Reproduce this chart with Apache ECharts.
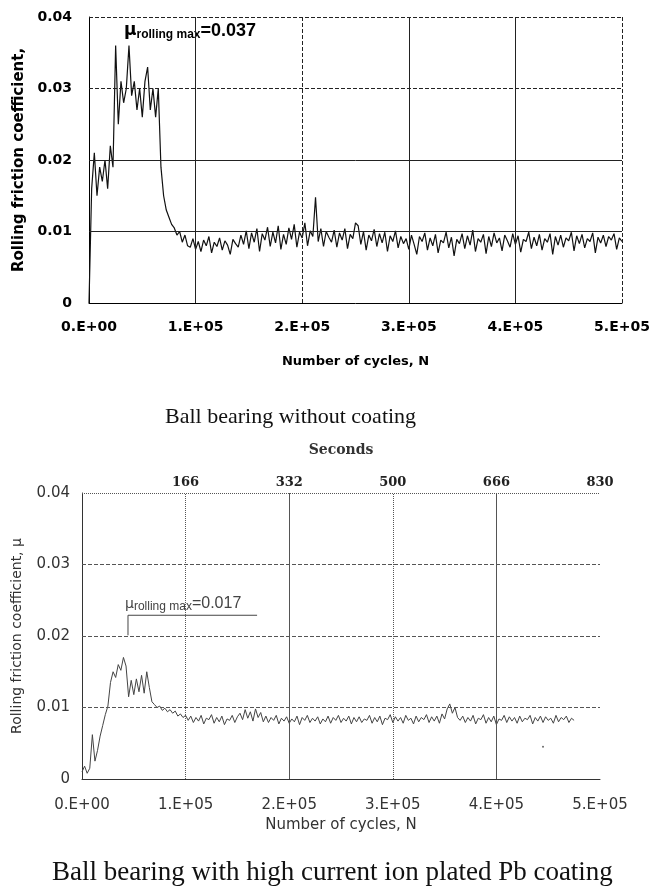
<!DOCTYPE html>
<html>
<head>
<meta charset="utf-8">
<script src="https://cdn.jsdelivr.net/npm/echarts@6/dist/echarts.min.js"></script>
<style>
html,body{margin:0;padding:0;background:#fff}
#chart{width:653px;height:892px}
</style>
</head>
<body>
<div id="chart"></div>
<script>
var STEP = 2500;

var cycleTicks = ['0.E+00', '1.E+05', '2.E+05', '3.E+05', '4.E+05', '5.E+05'];
var secondTicks = ['', '166', '332', '500', '666', '830'];

// ball bearing without coating
var muUncoated = [
  0.0000, 0.0160, 0.0210, 0.0150, 0.0190, 0.0170, 0.0200, 0.0160, 0.0220, 0.0190,
  0.0360, 0.0250, 0.0310, 0.0280, 0.0300, 0.0360, 0.0290, 0.0310, 0.0270, 0.0300,
  0.0260, 0.0310, 0.0330, 0.0270, 0.0300, 0.0260, 0.0300, 0.0190, 0.0150, 0.0130,
  0.0120, 0.0110, 0.0105, 0.0095, 0.0100, 0.0085, 0.0095, 0.0080,
  0.0078, 0.0090, 0.0075, 0.0086, 0.0072, 0.0088, 0.0080, 0.0093, 0.0070, 0.0085,
  0.0079, 0.0091, 0.0074, 0.0087, 0.0081, 0.0068, 0.0089, 0.0083,
  0.0078, 0.0095, 0.0082, 0.0101, 0.0076, 0.0098, 0.0085, 0.0104, 0.0072, 0.0097,
  0.0088, 0.0106, 0.0079, 0.0099, 0.0084, 0.0108, 0.0075,
  0.0096, 0.0082, 0.0105, 0.0089, 0.0110, 0.0078, 0.0099, 0.0091, 0.0112, 0.0080,
  0.0101, 0.0093, 0.0148, 0.0086, 0.0104, 0.0079, 0.0100, 0.0092,
  0.0085, 0.0102, 0.0078, 0.0098, 0.0088, 0.0104, 0.0076, 0.0096, 0.0090, 0.0112,
  0.0108, 0.0082, 0.0100, 0.0074, 0.0095, 0.0087, 0.0103, 0.0079, 0.0097, 0.0084,
  0.0099, 0.0072, 0.0094, 0.0086, 0.0101, 0.0077, 0.0093, 0.0083,
  0.0090, 0.0075, 0.0095, 0.0082, 0.0068, 0.0093, 0.0086, 0.0098, 0.0074, 0.0091,
  0.0080, 0.0096, 0.0070, 0.0088, 0.0084, 0.0099, 0.0077, 0.0092, 0.0066, 0.0089,
  0.0083, 0.0097, 0.0076, 0.0094, 0.0081, 0.0102, 0.0072, 0.0090, 0.0085, 0.0096,
  0.0069, 0.0093, 0.0079, 0.0098, 0.0084, 0.0091, 0.0073, 0.0095, 0.0087, 0.0078,
  0.0097, 0.0082, 0.0094, 0.0071, 0.0089, 0.0086, 0.0099, 0.0076, 0.0092, 0.0080,
  0.0096, 0.0074, 0.0090, 0.0085, 0.0097, 0.0068, 0.0093, 0.0081, 0.0095, 0.0078,
  0.0091, 0.0087, 0.0099, 0.0073, 0.0094, 0.0083, 0.0096, 0.0077, 0.0090, 0.0086,
  0.0098, 0.0070, 0.0092, 0.0084, 0.0095, 0.0079, 0.0093, 0.0088, 0.0097, 0.0075,
  0.0091, 0.0086
];

// ball bearing with high current ion plated Pb coating
var muCoated = [
  0.0010, 0.0018, 0.0008, 0.0015, 0.0062, 0.0025, 0.0040, 0.0060, 0.0075, 0.0090,
  0.0102, 0.0135, 0.0150, 0.0142, 0.0160, 0.0152, 0.0170, 0.0158, 0.0115, 0.0138,
  0.0118, 0.0140, 0.0122, 0.0145, 0.0120, 0.0150, 0.0128, 0.0108, 0.0104, 0.0100,
  0.0102, 0.0096, 0.0099, 0.0094, 0.0097, 0.0092, 0.0095, 0.0088, 0.0091, 0.0086,
  0.0089,
  0.0082, 0.0088, 0.0079, 0.0086, 0.0081, 0.0089, 0.0077, 0.0085, 0.0083, 0.0090,
  0.0078, 0.0086, 0.0080, 0.0088, 0.0076, 0.0084, 0.0082, 0.0089, 0.0079, 0.0087,
  0.0092, 0.0083, 0.0097, 0.0085, 0.0094, 0.0081, 0.0098, 0.0086, 0.0093, 0.0080,
  0.0088, 0.0079, 0.0086, 0.0082, 0.0089, 0.0077, 0.0085, 0.0081, 0.0087, 0.0078,
  0.0084, 0.0080, 0.0088, 0.0076, 0.0086, 0.0082, 0.0089, 0.0079, 0.0085, 0.0081,
  0.0087, 0.0077, 0.0084, 0.0080, 0.0088, 0.0078, 0.0086, 0.0082, 0.0089, 0.0079,
  0.0085, 0.0081, 0.0088, 0.0077, 0.0086, 0.0080, 0.0087, 0.0079, 0.0084, 0.0082,
  0.0089, 0.0078, 0.0086, 0.0080, 0.0088, 0.0076, 0.0085, 0.0083, 0.0090, 0.0079,
  0.0087, 0.0081, 0.0086, 0.0078, 0.0089, 0.0082, 0.0085, 0.0077, 0.0088, 0.0080,
  0.0086, 0.0083, 0.0090, 0.0079, 0.0087, 0.0081, 0.0088, 0.0078, 0.0091, 0.0084,
  0.0098, 0.0105, 0.0092, 0.0100, 0.0086,
  0.0082, 0.0088, 0.0079, 0.0086, 0.0081, 0.0089, 0.0077, 0.0085, 0.0083, 0.0090,
  0.0078, 0.0086, 0.0080, 0.0088, 0.0076, 0.0084, 0.0082, 0.0089, 0.0079, 0.0087,
  0.0081, 0.0086, 0.0078, 0.0088, 0.0080, 0.0085, 0.0083, 0.0089, 0.0077, 0.0086,
  0.0081, 0.0088, 0.0079, 0.0087, 0.0082, 0.0085, 0.0078, 0.0089, 0.0080, 0.0086,
  0.0083, 0.0088, 0.0079, 0.0085, 0.0082
];

// stray point on the coated trace
var strayPoint = [[445000, 0.0045]];
// bracket under the max label of the coated trace
var maxBracket = [[44400, 0.0201], [44400, 0.0229], [169000, 0.0229]];

var gridY = [0.01, 0.02, 0.03, 0.04];
var gridX = [100000, 200000, 300000, 400000, 500000];

function toPairs(arr) {
  return arr.map(function (v, i) { return [i * STEP, v]; });
}

function gridMarks(yTypes, xTypes, color) {
  var d = [];
  gridY.forEach(function (v, i) {
    if (yTypes[i]) d.push({ yAxis: v, lineStyle: { type: yTypes[i], color: color } });
  });
  gridX.forEach(function (v, i) {
    if (xTypes[i]) d.push({ xAxis: v, lineStyle: { type: xTypes[i], color: color } });
  });
  return d;
}

var sans = 'DejaVu Sans, Verdana, sans-serif';
var serif = 'Liberation Serif, Times New Roman, serif';
var serifB = 'DejaVu Serif, Georgia, serif';

var chart = echarts.init(document.getElementById('chart'));

var option = {
  animation: false,
  backgroundColor: '#fff',
  title: [
    { text: 'Ball bearing without coating', left: 160, top: 401,
      textStyle: { fontFamily: serif, fontSize: 22, fontWeight: 'normal', color: '#111' } },
    { text: 'Ball bearing with high current ion plated Pb coating', left: 47, top: 854,
      textStyle: { fontFamily: serif, fontSize: 27, fontWeight: 'normal', color: '#111' } }
  ],
  grid: [
    { left: 89, top: 17, width: 533, height: 286 },
    { left: 82, top: 493, width: 518, height: 286 }
  ],
  xAxis: [
    { gridIndex: 0, type: 'value', min: 0, max: 500000, interval: 100000,
      axisLine: { lineStyle: { color: '#000', width: 1 } }, axisTick: { show: false }, splitLine: { show: false },
      axisLabel: { formatter: function (v) { return cycleTicks[Math.round(v / 100000)]; },
        color: '#000', fontFamily: sans, fontWeight: 'bold', fontSize: 14, margin: 17 },
      name: 'Number of cycles, N', nameLocation: 'middle', nameGap: 52,
      nameTextStyle: { color: '#000', fontFamily: sans, fontWeight: 'bold', fontSize: 13 } },
    { gridIndex: 1, type: 'value', min: 0, max: 500000, interval: 100000,
      axisLine: { lineStyle: { color: '#333', width: 1 } }, axisTick: { show: false }, splitLine: { show: false },
      axisLabel: { formatter: function (v) { return cycleTicks[Math.round(v / 100000)]; },
        color: '#333', fontFamily: sans, fontSize: 15, margin: 19 },
      name: 'Number of cycles, N', nameLocation: 'middle', nameGap: 39,
      nameTextStyle: { color: '#333', fontFamily: sans, fontSize: 15 } },
    { gridIndex: 1, type: 'value', position: 'top', min: 0, max: 500000, interval: 100000,
      axisLine: { show: false }, axisTick: { show: false }, splitLine: { show: false },
      axisLabel: { formatter: function (v) { return secondTicks[Math.round(v / 100000)]; },
        color: '#222', fontFamily: serifB, fontWeight: 'bold', fontSize: 13, margin: 4 },
      name: 'Seconds', nameLocation: 'middle', nameGap: 36,
      nameTextStyle: { color: '#333', fontFamily: serifB, fontWeight: 'bold', fontSize: 14 } }
  ],
  yAxis: [
    { gridIndex: 0, type: 'value', min: 0, max: 0.04, interval: 0.01,
      axisLine: { show: true, lineStyle: { color: '#000', width: 1 } }, axisTick: { show: false }, splitLine: { show: false },
      axisLabel: { color: '#000', fontFamily: sans, fontWeight: 'bold', fontSize: 14, margin: 17 },
      name: 'Rolling friction coefficient,', nameLocation: 'middle', nameGap: 59,
      nameTextStyle: { color: '#000', fontFamily: sans, fontWeight: 'bold', fontSize: 15 } },
    { gridIndex: 1, type: 'value', min: 0, max: 0.04, interval: 0.01,
      axisLine: { show: true, lineStyle: { color: '#333', width: 1 } }, axisTick: { show: false }, splitLine: { show: false },
      axisLabel: { color: '#333', fontFamily: sans, fontSize: 15, margin: 12 },
      name: 'Rolling friction coefficient, μ', nameLocation: 'middle', nameGap: 58,
      nameTextStyle: { color: '#333', fontFamily: sans, fontSize: 14 } }
  ],
  series: [
    { type: 'line', xAxisIndex: 0, yAxisIndex: 0, data: [], z: 1, silent: true,
      markLine: { symbol: ['none', 'none'], silent: true, label: { show: false },
        lineStyle: { width: 1 },
        data: gridMarks(['solid', 'solid', 'dashed', 'dashed'], ['solid', 'dashed', 'solid', 'solid', 'dashed'], '#222') } },
    { type: 'line', xAxisIndex: 1, yAxisIndex: 1, data: [], z: 1, silent: true,
      markLine: { symbol: ['none', 'none'], silent: true, label: { show: false },
        lineStyle: { width: 1 },
        data: gridMarks(['dashed', 'dashed', 'dashed', 'dotted'], ['dotted', 'solid', 'dotted', 'solid', null], '#555') } },
    { type: 'line', xAxisIndex: 0, yAxisIndex: 0, data: toPairs(muUncoated), z: 3,
      showSymbol: false, lineStyle: { color: '#111', width: 1.2 } },
    { type: 'line', xAxisIndex: 1, yAxisIndex: 1, data: toPairs(muCoated), z: 3,
      showSymbol: false, lineStyle: { color: '#444', width: 1 } },
    { type: 'scatter', xAxisIndex: 1, yAxisIndex: 1, data: strayPoint, symbolSize: 2,
      itemStyle: { color: '#444' } },
    { type: 'line', xAxisIndex: 1, yAxisIndex: 1, data: maxBracket, z: 3,
      showSymbol: false, lineStyle: { color: '#444', width: 1 } }
  ],
  graphic: [
    { type: 'text', left: 124, top: 22, style: {
      text: '{mu|μ}{sub|rolling max}{v|=0.037}',
      rich: {
        mu: { fontFamily: sans, fontWeight: 'bold', fontSize: 17, fill: '#000' },
        sub: { fontFamily: 'Liberation Sans, Arial, sans-serif', fontWeight: 'bold', fontSize: 12, fill: '#000', padding: [7, 0, 0, 0] },
        v: { fontFamily: 'Liberation Sans, Arial, sans-serif', fontWeight: 'bold', fontSize: 18, fill: '#000' }
      } } },
    { type: 'text', left: 125, top: 596, style: {
      text: '{mu|μ}{sub|rolling max}{v|=0.017}',
      rich: {
        mu: { fontFamily: sans, fontSize: 14, fill: '#444' },
        sub: { fontFamily: 'Liberation Sans, Arial, sans-serif', fontSize: 12, fill: '#444', padding: [5, 0, 0, 0] },
        v: { fontFamily: 'Liberation Sans, Arial, sans-serif', fontSize: 16, fill: '#444' }
      } } }
  ]
};

chart.setOption(option);
</script>
</body>
</html>
